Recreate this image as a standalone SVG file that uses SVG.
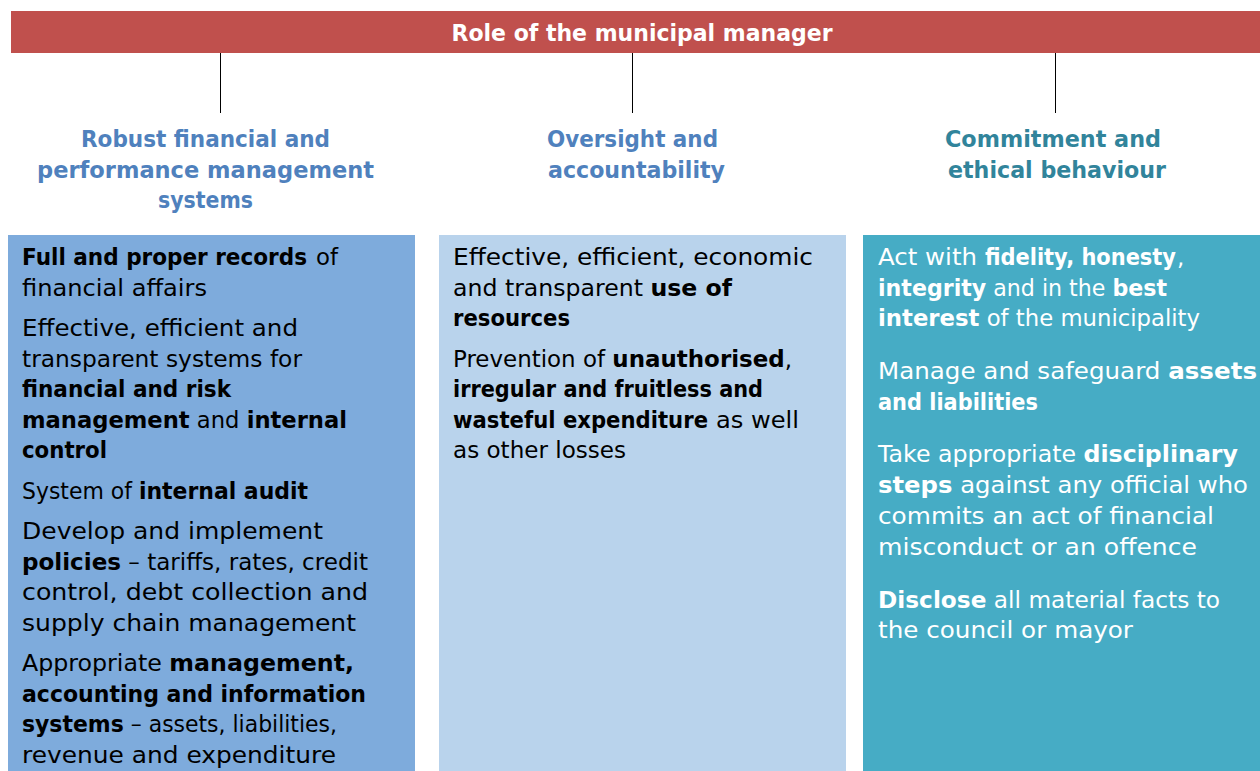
<svg xmlns="http://www.w3.org/2000/svg" width="1260" height="771" viewBox="0 0 1260 771">
<style>
text{font-family:"DejaVu Sans","Liberation Sans",sans-serif;font-size:23px}
.b{font-weight:bold}
.hd{font-weight:bold;fill:#4F81BD;text-anchor:middle}
.hd3{font-weight:bold;fill:#31849B;text-anchor:middle}
.dk{fill:#000}
.wt{fill:#fff}
</style>
<rect width="1260" height="771" fill="#fff"/>
<g id="title">
<rect x="11" y="11" width="1249" height="42" fill="#C0504D"/>
<text x="642" y="41" class="b wt" text-anchor="middle" textLength="381" lengthAdjust="spacingAndGlyphs">Role of the municipal manager</text>
</g>
<g id="connectors" stroke="#000" stroke-width="1">
<line x1="220.5" y1="53" x2="220.5" y2="113"/>
<line x1="632.5" y1="53" x2="632.5" y2="113"/>
<line x1="1055.5" y1="53" x2="1055.5" y2="113"/>
</g>
<g id="col1">
<text x="205.5" y="147" class="hd" textLength="249" lengthAdjust="spacingAndGlyphs">Robust financial and</text>
<text x="205.5" y="178" class="hd" textLength="337" lengthAdjust="spacingAndGlyphs">performance management</text>
<text x="205.5" y="208" class="hd" textLength="95" lengthAdjust="spacingAndGlyphs">systems</text>
<rect x="8" y="235" width="407" height="536" fill="#7EABDC"/>
<g class="dk">
<text x="22" y="265" class="b" textLength="285" lengthAdjust="spacingAndGlyphs">Full and proper records</text>
<text x="316" y="265" textLength="22" lengthAdjust="spacingAndGlyphs">of</text>
<text x="22" y="295.5" textLength="185" lengthAdjust="spacingAndGlyphs">financial affairs</text>
<text x="22" y="336" textLength="276" lengthAdjust="spacingAndGlyphs">Effective, efficient and</text>
<text x="22" y="366.5" textLength="280" lengthAdjust="spacingAndGlyphs">transparent systems for</text>
<text x="22" y="397" class="b" textLength="209" lengthAdjust="spacingAndGlyphs">financial and risk</text>
<text x="22" y="427.5" textLength="325" lengthAdjust="spacingAndGlyphs"><tspan class="b">management</tspan> and <tspan class="b">internal</tspan></text>
<text x="22" y="458" class="b" textLength="85" lengthAdjust="spacingAndGlyphs">control</text>
<text x="22" y="498.5" textLength="286" lengthAdjust="spacingAndGlyphs">System of <tspan class="b">internal audit</tspan></text>
<text x="22" y="539" textLength="301" lengthAdjust="spacingAndGlyphs">Develop and implement</text>
<text x="22" y="569.5" textLength="346" lengthAdjust="spacingAndGlyphs"><tspan class="b">policies</tspan> – tariffs, rates, credit</text>
<text x="22" y="600" textLength="346" lengthAdjust="spacingAndGlyphs">control, debt collection and</text>
<text x="22" y="630.5" textLength="334" lengthAdjust="spacingAndGlyphs">supply chain management</text>
<text x="22" y="671" textLength="332" lengthAdjust="spacingAndGlyphs">Appropriate <tspan class="b">management,</tspan></text>
<text x="22" y="701.5" class="b" textLength="344" lengthAdjust="spacingAndGlyphs">accounting and information</text>
<text x="22" y="732" textLength="315" lengthAdjust="spacingAndGlyphs"><tspan class="b">systems</tspan> – assets, liabilities,</text>
<text x="22" y="762.5" textLength="314" lengthAdjust="spacingAndGlyphs">revenue and expenditure</text>
</g>
</g>
<g id="col2">
<text x="632.5" y="147" class="hd" textLength="171" lengthAdjust="spacingAndGlyphs">Oversight and</text>
<text x="636.5" y="178" class="hd" textLength="177" lengthAdjust="spacingAndGlyphs">accountability</text>
<rect x="439" y="235" width="407" height="536" fill="#B9D3EC"/>
<g class="dk">
<text x="453" y="265" textLength="360" lengthAdjust="spacingAndGlyphs">Effective, efficient, economic</text>
<text x="453" y="295.5" textLength="279" lengthAdjust="spacingAndGlyphs">and transparent <tspan class="b">use of</tspan></text>
<text x="453" y="326" class="b" textLength="117" lengthAdjust="spacingAndGlyphs">resources</text>
<text x="453" y="366.5" textLength="339" lengthAdjust="spacingAndGlyphs">Prevention of <tspan class="b">unauthorised</tspan>,</text>
<text x="453" y="397" class="b" textLength="310" lengthAdjust="spacingAndGlyphs">irregular and fruitless and</text>
<text x="453" y="427.5" class="b" textLength="255" lengthAdjust="spacingAndGlyphs">wasteful expenditure</text>
<text x="716" y="427.5" textLength="83" lengthAdjust="spacingAndGlyphs">as well</text>
<text x="453" y="458" textLength="173" lengthAdjust="spacingAndGlyphs">as other losses</text>
</g>
</g>
<g id="col3">
<text x="1053" y="147" class="hd3" textLength="216" lengthAdjust="spacingAndGlyphs">Commitment and</text>
<text x="1057" y="178" class="hd3" textLength="218" lengthAdjust="spacingAndGlyphs">ethical behaviour</text>
<rect x="863" y="235" width="397" height="536" fill="#46ACC5"/>
<g class="wt">
<text x="878" y="265" textLength="99" lengthAdjust="spacingAndGlyphs">Act with</text>
<text x="985" y="265" class="b" textLength="191" lengthAdjust="spacingAndGlyphs">fidelity, honesty</text>
<text x="1177" y="265">,</text>
<text x="878" y="295.5" textLength="289" lengthAdjust="spacingAndGlyphs"><tspan class="b">integrity</tspan> and in the <tspan class="b">best</tspan></text>
<text x="878" y="326" textLength="322" lengthAdjust="spacingAndGlyphs"><tspan class="b">interest</tspan> of the municipality</text>
<text x="878" y="379" textLength="379" lengthAdjust="spacingAndGlyphs">Manage and safeguard <tspan class="b">assets</tspan></text>
<text x="878" y="409.5" class="b" textLength="160" lengthAdjust="spacingAndGlyphs">and liabilities</text>
<text x="878" y="462" textLength="360" lengthAdjust="spacingAndGlyphs">Take appropriate <tspan class="b">disciplinary</tspan></text>
<text x="878" y="492.5" textLength="370" lengthAdjust="spacingAndGlyphs"><tspan class="b">steps</tspan> against any official who</text>
<text x="878" y="524" textLength="336" lengthAdjust="spacingAndGlyphs">commits an act of financial</text>
<text x="878" y="554.5" textLength="319" lengthAdjust="spacingAndGlyphs">misconduct or an offence</text>
<text x="878" y="607.5" textLength="342" lengthAdjust="spacingAndGlyphs"><tspan class="b">Disclose</tspan> all material facts to</text>
<text x="878" y="638" textLength="255" lengthAdjust="spacingAndGlyphs">the council or mayor</text>
</g>
</g>
</svg>
